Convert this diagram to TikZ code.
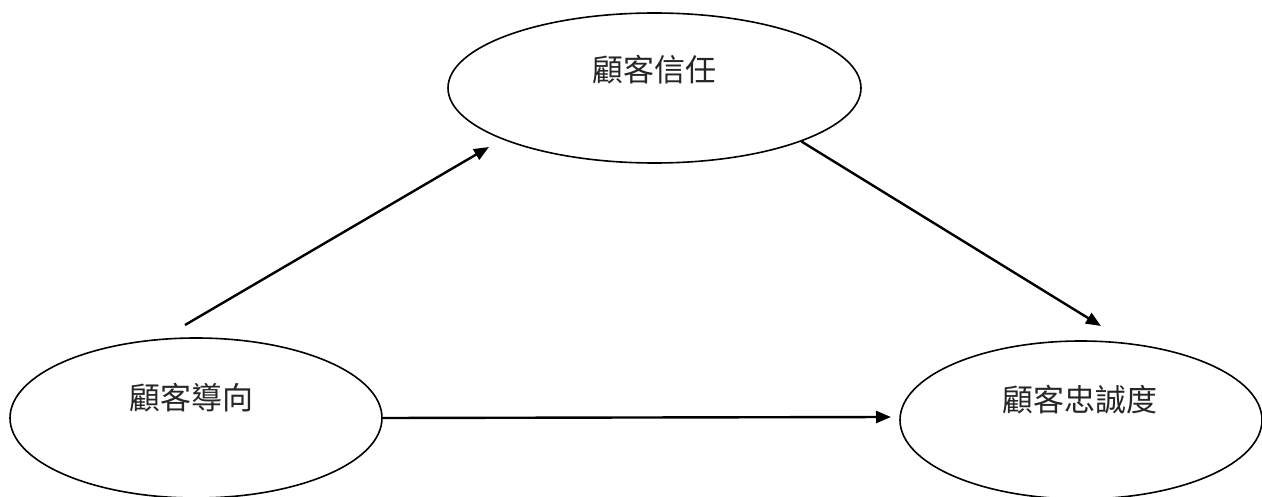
\documentclass[tikz,border=0pt]{standalone}
\usepackage{fontspec}
\newfontfamily\cjk{Noto Sans CJK TC}
\usetikzlibrary{shapes.geometric,arrows.meta}
\tikzset{
  oval/.style={draw=black, line width=1.6pt, ellipse, inner sep=0pt},
  lbl/.style={font=\cjk\fontsize{31}{36}\selectfont, text=black!85, inner sep=0pt},
  arr/.style={line width=2.4pt, -{Triangle[length=15pt,width=12pt]}}
}
\begin{document}
\begin{tikzpicture}[x=1pt,y=-1pt]
\useasboundingbox (0,0) rectangle (1262,497);
\node[oval, minimum width=413pt, minimum height=150pt] (trust) at (654.5,88) {};
\node[oval, minimum width=372pt, minimum height=160pt] (orient) at (196,418) {};
\node[oval, minimum width=362pt, minimum height=158pt] (loyal) at (1081,420) {};
\node[lbl] (ttrust) at (654,70) {顧客信任};
\node[lbl] (torient) at (191,398) {顧客導向};
\node[lbl] (tloyal) at (1080,400) {顧客忠誠度};
\coordinate (a1s) at (185,325);
\coordinate (a1e) at (489,147);
\coordinate (a2e) at (1101,326);
\coordinate (a3e) at (891,417);
\draw[arr] (a1s) -- (a1e);
\draw[arr] (trust.-20) -- (a2e);
\draw[arr] (orient.east) -- (a3e);
\end{tikzpicture}
\end{document}
